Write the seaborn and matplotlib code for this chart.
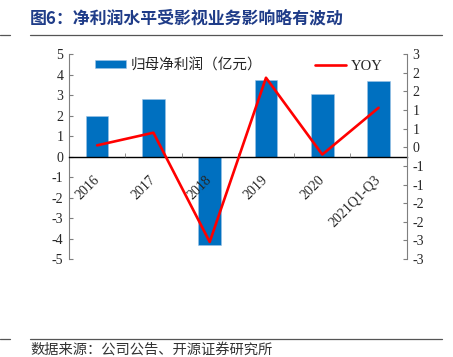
import numpy as np
import pandas as pd
import seaborn as sns
import matplotlib.pyplot as plt
from matplotlib.lines import Line2D

years = ['2016', '2017', '2018', '2019', '2020', '2021Q1-Q3']
profit = [2.0, 2.8, -4.32, 3.74, 3.07, 3.69]     # 归母净利润（亿元）
yoy = [0.33, 0.70, -2.50, 2.31, 0.06, 1.43]       # YOY
right_tick_labels = ['-3', '-3', '-2', '-2', '-1', '-1', '0', '1', '1', '2', '2', '3']

df = pd.DataFrame({'year': years, 'profit': profit, 'yoy': yoy, 'pos': np.arange(len(years))})

sns.set_style('white')
plt.rcParams['font.family'] = ['Liberation Serif', 'Noto Sans CJK SC']
plt.rcParams['axes.unicode_minus'] = False

fig = plt.figure(figsize=(4.53, 3.57), dpi=100)
ax = fig.add_axes([0.1523, 0.2745, 0.7455, 0.5737])

# bars on left axis
sns.barplot(data=df, x='pos', y='profit', color='#0070C0', width=0.4, saturation=1,
            edgecolor='#9dc3e6', linewidth=0.4, label='归母净利润（亿元）', ax=ax)
ax.set_xlim(-0.5, 5.5)
ax.set_ylim(-5, 5)
ax.set_yticks(range(-5, 6))
ax.set_xlabel('')
ax.set_ylabel('')
ax.set_axisbelow(False)

# YOY line on right axis
ax2 = ax.twinx()
sns.lineplot(data=df, x='pos', y='yoy', color='#FF0000', linewidth=1.9, label='YOY', ax=ax2)
ax2.set_ylim(-3, 3)
ax2.set_yticks(np.linspace(-3, 3, 12))
ax2.set_yticklabels(right_tick_labels)
ax2.set_ylabel('')
ax2.set_xlim(-0.5, 5.5)

# spines
for a in (ax, ax2):
    a.spines['top'].set_visible(False)
    a.spines['left'].set_color('#7f7f7f')
    a.spines['right'].set_color('#7f7f7f')
ax.spines['right'].set_visible(False)
ax2.spines['left'].set_visible(False)
ax2.spines['bottom'].set_visible(False)
ax.spines['bottom'].set_position(('data', 0))
ax.spines['bottom'].set_color('black')
ax.spines['bottom'].set_linewidth(1.0)
ax.spines['bottom'].set_zorder(3)

# ticks
ax.tick_params(axis='y', direction='in', length=3, color='#7f7f7f', labelsize=10, pad=4, left=True)
ax2.tick_params(axis='y', direction='in', length=3, color='#7f7f7f', labelsize=10, pad=4, right=True)
ax.set_xticks(range(len(years)))
ax.set_xticklabels(years, rotation=45, ha='right', va='center', rotation_mode='anchor', fontsize=10)
ax.set_xticks(np.arange(0.5, 5.5, 1), minor=True)
ax.tick_params(axis='x', which='major', length=0, pad=15)
ax.tick_params(axis='x', which='minor', direction='in', length=3, color='#7f7f7f', bottom=True)
ax2.tick_params(axis='x', length=0, labelbottom=False)
ax.xaxis.set_zorder(3)

# legend
h1, l1 = ax.get_legend_handles_labels()
h2, l2 = ax2.get_legend_handles_labels()
if ax2.get_legend():
    ax2.get_legend().remove()
leg = ax2.legend(h1 + h2, l1 + l2, ncol=2, frameon=False, loc='center left',
                 bbox_to_anchor=(0.077, 0.945), borderaxespad=0, borderpad=0,
                 handlelength=2.15, handleheight=0.5, handletextpad=0.3,
                 columnspacing=3.6, prop={'size': 10.5})
if ax.get_legend():
    ax.get_legend().remove()

# title, separator lines, source
fig.text(30 / 453, 1 - 18 / 357, '图6：净利润水平受影视业务影响略有波动', fontsize=12.2,
         fontweight='bold', color='#1f3c88', va='center', ha='left', family=['Noto Sans CJK SC'])
for y in (1 - 34.5 / 357, 1 - 339 / 357):
    fig.add_artist(Line2D([0, 10 / 453], [y, y], color='#555555', linewidth=0.9))
    fig.add_artist(Line2D([30 / 453, 442 / 453], [y, y], color='#555555', linewidth=0.9))
fig.text(30 / 453, 1 - 350 / 357, '数据来源：公司公告、开源证券研究所', fontsize=10.3,
         color='#333333', va='center', ha='left', family=['Noto Sans CJK SC'])

fig.savefig('out.png', dpi=100)
